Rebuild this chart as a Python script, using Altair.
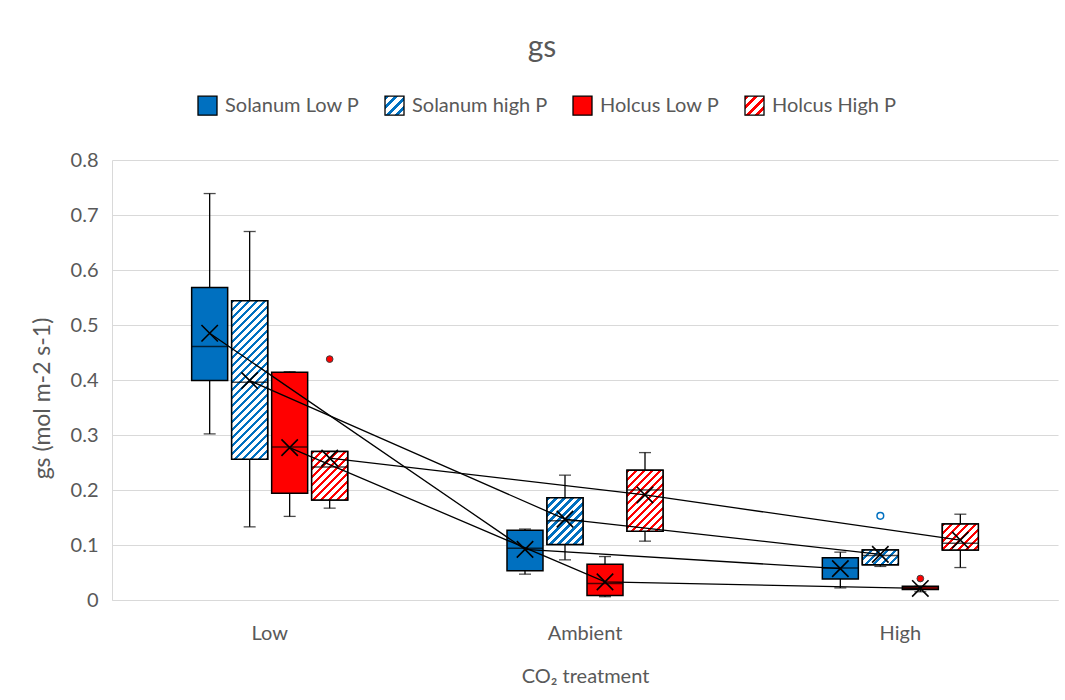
import altair as alt
import pandas as pd

# ---------------- data ----------------
groups = ["Low", "Ambient", "High"]
series = ["Solanum Low P", "Solanum high P", "Holcus Low P", "Holcus High P"]

whisker_low = {
    "Solanum Low P": [0.302, 0.047, 0.022],
    "Solanum high P": [0.133, 0.073, 0.061],
    "Holcus Low P": [0.152, 0.006, 0.015],
    "Holcus High P": [0.167, 0.107, 0.059],
}
quartile_1 = {
    "Solanum Low P": [0.399, 0.053, 0.038],
    "Solanum high P": [0.256, 0.101, 0.064],
    "Holcus Low P": [0.194, 0.008, 0.019],
    "Holcus High P": [0.182, 0.125, 0.091],
}
median = {
    "Solanum Low P": [0.461, 0.094, 0.058],
    "Solanum high P": [0.396, 0.144, 0.081],
    "Holcus Low P": [0.278, 0.030, 0.022],
    "Holcus High P": [0.242, 0.200, 0.103],
}
quartile_3 = {
    "Solanum Low P": [0.568, 0.127, 0.077],
    "Solanum high P": [0.544, 0.186, 0.091],
    "Holcus Low P": [0.414, 0.065, 0.025],
    "Holcus High P": [0.270, 0.236, 0.138],
}
whisker_high = {
    "Solanum Low P": [0.739, 0.129, 0.087],
    "Solanum high P": [0.670, 0.227, 0.091],
    "Holcus Low P": [0.415, 0.079, 0.025],
    "Holcus High P": [0.270, 0.268, 0.156],
}
mean = {
    "Solanum Low P": [0.485, 0.092, 0.057],
    "Solanum high P": [0.399, 0.147, 0.083],
    "Holcus Low P": [0.277, 0.033, 0.021],
    "Holcus High P": [0.258, 0.191, 0.109],
}
outlier_group = ["Low", "High", "High"]
outlier_series = ["Holcus High P", "Solanum high P", "Holcus Low P"]
outlier_value = [0.438, 0.153, 0.039]

y_ticks = [0, 0.1, 0.2, 0.3, 0.4, 0.5, 0.6, 0.7, 0.8]

# ---------------- tables ----------------
rows = []
for s in series:
    for i, g in enumerate(groups):
        rows.append({
            "group": g, "series": s,
            "lo": whisker_low[s][i], "q1": quartile_1[s][i],
            "med": median[s][i], "q3": quartile_3[s][i],
            "hi": whisker_high[s][i], "mean": mean[s][i],
        })
df = pd.DataFrame(rows)
out_df = pd.DataFrame({"group": outlier_group, "series": outlier_series,
                       "value": outlier_value})

# ---------------- styles ----------------
BLUE = "#0070C0"
RED = "#FF0000"
GREY = "#595959"
FONT = "Lato"
PLOT_W, PLOT_H = 946, 440
BOX_W = 36          # pixel width of a box (xOffset bandwidth)
PERIOD = 8          # hatch period (x+y pixels)


def stripe_stops(color, periods, frac):
    parts = []
    for i in range(periods):
        a = i / periods
        b = (i + frac) / periods
        c = (i + 1) / periods
        parts.append(f"{{offset:{a:.5f},color:'{color}'}}")
        parts.append(f"{{offset:{b:.5f},color:'{color}'}}")
        parts.append(f"{{offset:{b:.5f},color:'#FFFFFF'}}")
        parts.append(f"{{offset:{c:.5f},color:'#FFFFFF'}}")
    return "[" + ",".join(parts) + "]"


def legend_hatch(color):
    return alt.ExprRef(
        "{gradient:'linear',x1:0,y1:0,x2:1,y2:1,stops:" + stripe_stops(color, 4, 0.42) + "}"
    )


def box_hatch(color):
    periods = 30
    k = periods * PERIOD
    h = "(scale('y', datum.q1) - scale('y', datum.q3))"
    den = f"({BOX_W * BOX_W} + {h}*{h})"
    return alt.ExprRef(
        "{gradient:'linear',x1:0,y1:0,"
        f"x2:{k}*{BOX_W}/{den},y2:{k}*{h}/{den},"
        "stops:" + stripe_stops(color, periods, 0.42) + "}"
    )


x_enc = alt.X(
    "group:N", sort=groups,
    scale=alt.Scale(paddingInner=0.4926, paddingOuter=0.2463),
    axis=alt.Axis(title="CO₂ treatment", labelAngle=0, ticks=False, tickSize=0,
                  labelPadding=39, labelBaseline="alphabetic",
                  titleY=82, titleBaseline="alphabetic",
                  domainColor="#D9D9D9", grid=False),
)
xo_enc = alt.XOffset("series:N", sort=series,
                     scale=alt.Scale(paddingInner=0.1, paddingOuter=0.05))
y_scale = alt.Scale(domain=[0, 0.8], nice=False)
y_axis = alt.Axis(title="gs (mol m-2 s-1)", values=y_ticks, format=".1~f",
                  ticks=False, tickSize=0, labelPadding=14,
                  domainColor="#D9D9D9", gridColor="#D9D9D9",
                  titleX=-70, titleY=238, titleAngle=270, titleFontSize=23,
                  titleBaseline="middle", titleAlign="center")

base = alt.Chart(df)

whiskers = base.mark_rule(color="black", strokeWidth=1.3).encode(
    x=x_enc, xOffset=xo_enc,
    y=alt.Y("lo:Q", scale=y_scale, axis=y_axis), y2="hi:Q",
)

caps = base.transform_fold(["lo", "hi"], as_=["stat", "v"]).mark_tick(
    color="black", size=12, thickness=1.3
).encode(x=x_enc, xOffset=xo_enc, y=alt.Y("v:Q", scale=y_scale))

boxes = base.mark_bar(stroke="black", strokeWidth=1.5).encode(
    x=x_enc, xOffset=xo_enc,
    y=alt.Y("q1:Q", scale=y_scale), y2="q3:Q",
    fill=alt.Fill(
        "series:N", sort=series,
        scale=alt.Scale(domain=series,
                        range=[BLUE, legend_hatch(BLUE), RED, legend_hatch(RED)]),
        legend=alt.Legend(title=None, orient="none", legendX=85, legendY=-65,
                          direction="horizontal", symbolType="square",
                          symbolSize=361, symbolStrokeColor="black",
                          symbolStrokeWidth=1.3, labelFont=FONT,
                          labelFontSize=20, labelColor=GREY, labelOffset=7,
                          columnPadding=22),
    ),
)

hatch_layers = []
for s, col in [("Solanum high P", BLUE), ("Holcus High P", RED)]:
    hatch_layers.append(
        base.transform_filter(alt.datum.series == s)
        .mark_bar(stroke="black", strokeWidth=1.5)
        .encode(x=x_enc, xOffset=xo_enc,
                y=alt.Y("q1:Q", scale=y_scale), y2="q3:Q",
                fill=alt.value(box_hatch(col)))
    )

medians = base.mark_tick(color="black", size=BOX_W, thickness=1.5).encode(
    x=x_enc, xOffset=xo_enc, y=alt.Y("med:Q", scale=y_scale))

mean_lines = base.mark_line(color="black", strokeWidth=1.3).encode(
    x=x_enc, xOffset=xo_enc, y=alt.Y("mean:Q", scale=y_scale), detail="series:N")

mean_marks = base.mark_point(
    shape="M-1,-1L1,1M-1,1L1,-1", size=270, filled=False,
    color="black", strokeWidth=1.6, opacity=1,
).encode(x=x_enc, xOffset=xo_enc, y=alt.Y("mean:Q", scale=y_scale))

out_base = alt.Chart(out_df)
out_red = out_base.transform_filter(alt.datum.series != "Solanum high P").mark_point(
    filled=True, size=45, fill=RED, stroke="#404040", strokeWidth=1, opacity=1
).encode(x=x_enc, xOffset=xo_enc, y=alt.Y("value:Q", scale=y_scale))
out_blue = out_base.transform_filter(alt.datum.series == "Solanum high P").mark_point(
    filled=True, size=45, fill="white", stroke=BLUE, strokeWidth=1.5, opacity=1
).encode(x=x_enc, xOffset=xo_enc, y=alt.Y("value:Q", scale=y_scale))

chart = alt.layer(
    whiskers, caps, boxes, *hatch_layers, medians, mean_lines, mean_marks,
    out_red, out_blue,
).properties(
    width=PLOT_W, height=PLOT_H,
    title=alt.TitleParams("gs", anchor="middle", dx=-43, offset=32,
                          font=FONT, fontSize=30, fontWeight="normal", color=GREY),
    padding={"left": 112, "top": 160, "right": 7, "bottom": 100},
    autosize=alt.AutoSizeParams(type="none"),
    background="white",
).configure_view(strokeWidth=0).configure_axis(
    labelFont=FONT, labelFontSize=20, labelColor=GREY,
    titleFont=FONT, titleFontSize=20, titleColor=GREY, titleFontWeight="normal",
)

chart.save("out.html", embed_options={"renderer": "svg", "actions": False})
